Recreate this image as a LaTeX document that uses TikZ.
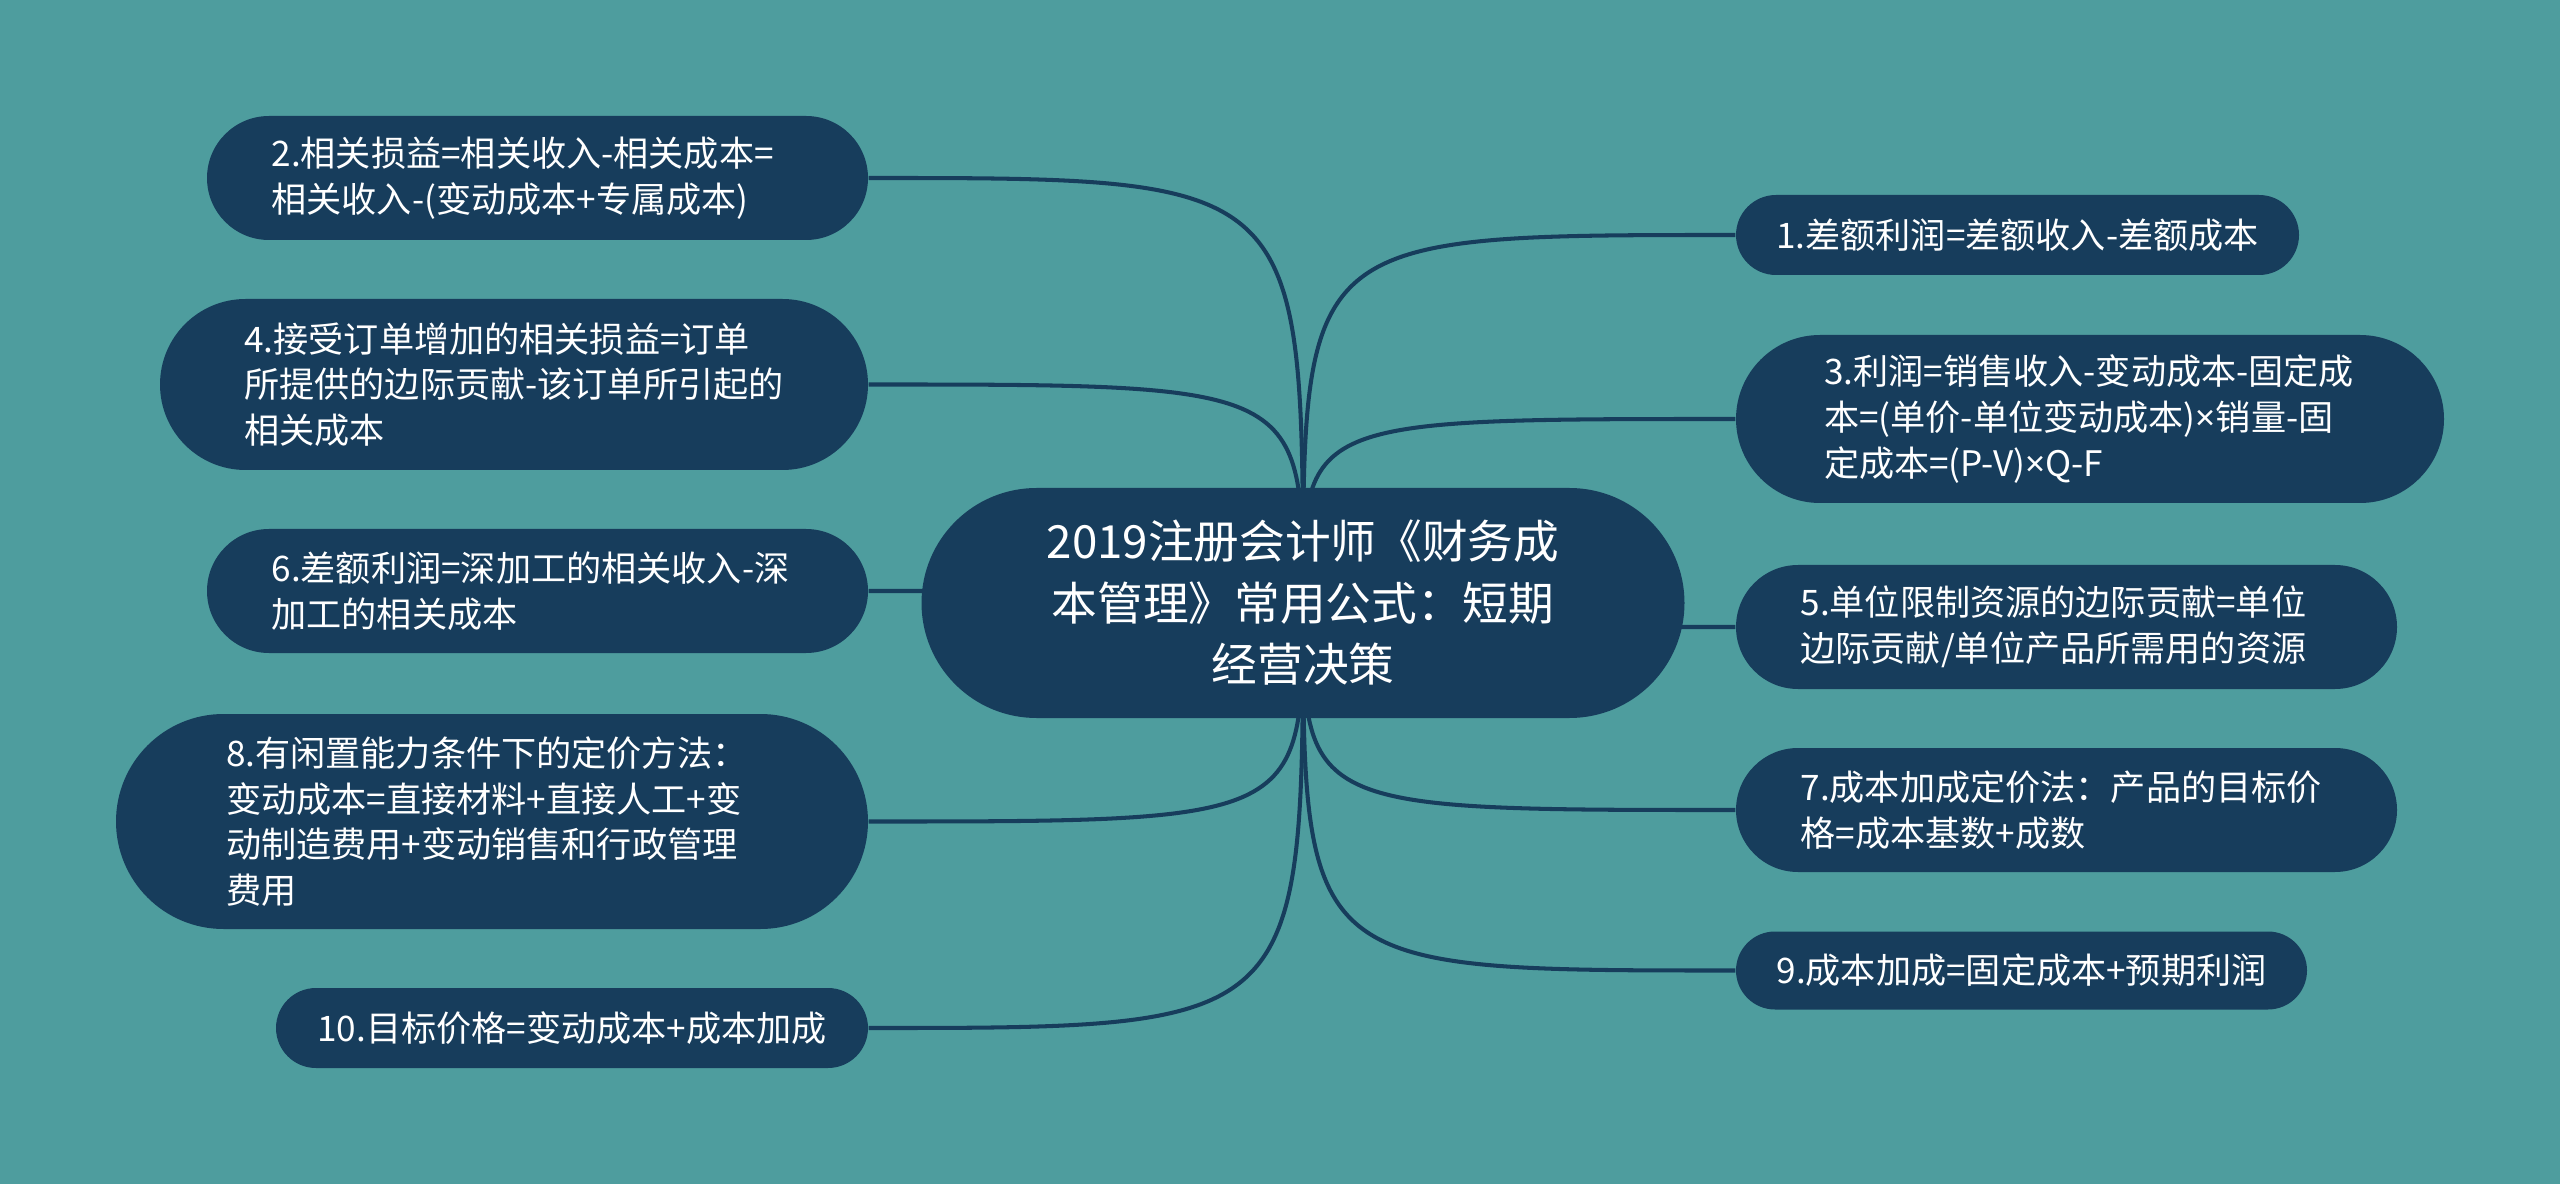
\documentclass[tikz,border=0pt]{standalone}
\usepackage{fontspec}
\usepackage{tikz}
\usetikzlibrary{backgrounds}
\newfontfamily\cjk{Noto Sans CJK SC}
\newfontfamily\latin{Noto Sans}
\newcommand{\x}{{\latin ×}}
\definecolor{teal bg}{RGB}{78,157,158}
\definecolor{navy}{RGB}{23,61,92}
\tikzset{
    topic/.style={fill=navy, text=white, inner sep=0pt, align=left,
        font=\cjk\fontsize{10}{13}\selectfont},
    wide/.style={text width=5.32cm},
    root/.style={fill=navy, text=white, inner sep=0pt, align=center,
        font=\cjk\fontsize{13}{17.5}\selectfont},
    link/.style={draw=navy, line width=1.15pt}
}

\begin{document}
\begin{tikzpicture}
    \useasboundingbox (0,0) rectangle (25.6,-11.84);

    % centre
    \node[root, minimum width=7.63cm, minimum height=2.3cm, rounded corners=1.15cm] (main) at (13.03,-6.03) {2019注册会计师《财务成\\本管理》常用公式：短期\\经营决策};

    % left side
    \node[topic, wide, minimum width=6.61cm, minimum height=1.24cm, rounded corners=0.62cm] (f2) at (5.375,-1.78) {2.相关损益=相关收入-相关成本=\\相关收入-(变动成本+专属成本)};
    \node[topic, minimum width=7.08cm, minimum height=1.71cm, rounded corners=0.855cm] (f4) at (5.14,-3.845) {4.接受订单增加的相关损益=订单\\所提供的边际贡献-该订单所引起的\\相关成本};
    \node[topic, wide, minimum width=6.61cm, minimum height=1.24cm, rounded corners=0.62cm] (f6) at (5.375,-5.91) {6.差额利润=深加工的相关收入-深\\加工的相关成本};
    \node[topic, wide, minimum width=7.52cm, minimum height=2.15cm, rounded corners=1.075cm] (f8) at (4.92,-8.215) {8.有闲置能力条件下的定价方法：\\变动成本=直接材料+直接人工+变\\动制造费用+变动销售和行政管理\\费用};
    \node[topic, minimum width=5.92cm, minimum height=0.8cm, rounded corners=0.4cm] (f10) at (5.72,-10.28) {10.目标价格=变动成本+成本加成};

    % right side
    \node[topic, minimum width=5.63cm, minimum height=0.8cm, rounded corners=0.4cm] (f1) at (20.175,-2.35) {1.差额利润=差额收入-差额成本};
    \node[topic, wide, minimum width=7.08cm, minimum height=1.68cm, rounded corners=0.84cm] (f3) at (20.9,-4.19) {3.利润=销售收入-变动成本-固定成\\本=(单价-单位变动成本)\x 销量-固\\定成本=(P-V)\x Q-F};
    \node[topic, wide, minimum width=6.61cm, minimum height=1.24cm, rounded corners=0.62cm] (f5) at (20.665,-6.27) {5.单位限制资源的边际贡献=单位\\边际贡献/单位产品所需用的资源};
    \node[topic, wide, minimum width=6.61cm, minimum height=1.24cm, rounded corners=0.62cm] (f7) at (20.665,-8.1) {7.成本加成定价法：产品的目标价\\格=成本基数+成数};
    \node[topic, minimum width=5.71cm, minimum height=0.78cm, rounded corners=0.39cm] (f9) at (20.215,-9.705) {9.成本加成=固定成本+预期利润};

    \begin{scope}[on background layer]
        \fill[teal bg] (0,0) rectangle (25.6,-11.84);
        \foreach \f in {f2,f4,f6,f8,f10}
            \draw[link] (main.center) .. controls (main.center |- \f.east) .. (\f.east);
        \foreach \f in {f1,f3,f5,f7,f9}
            \draw[link] (main.center) .. controls (main.center |- \f.west) .. (\f.west);
    \end{scope}
\end{tikzpicture}
\end{document}
